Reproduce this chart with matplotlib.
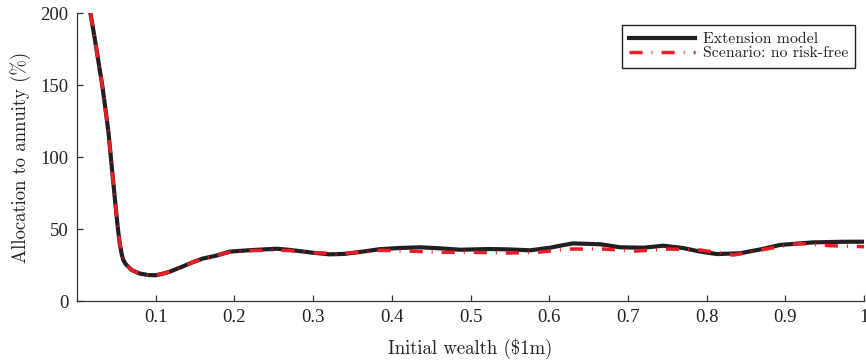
import matplotlib
matplotlib.use("Agg")
import matplotlib.pyplot as plt

# curves
wealth_ext = [0.017, 0.022, 0.027, 0.032, 0.036, 0.040, 0.043, 0.046, 0.049, 0.052,
              0.0546, 0.057, 0.0588, 0.062, 0.0695, 0.08, 0.091, 0.1, 0.108, 0.118,
              0.13, 0.147, 0.16, 0.177, 0.194, 0.22, 0.254, 0.27, 0.3, 0.321,
              0.34, 0.363, 0.385, 0.41, 0.436, 0.46, 0.487, 0.525, 0.55, 0.576,
              0.601, 0.615, 0.63, 0.665, 0.69, 0.72, 0.745, 0.77, 0.79, 0.813,
              0.842, 0.87, 0.893, 0.935, 0.97, 1.0]
alloc_ext = [200, 184, 167, 150, 134, 117, 100, 83, 66, 50,
             39, 32, 28.5, 25.5, 21.5, 19, 18, 17.9, 18.8, 20.4,
             23, 26.9, 29.5, 31.5, 34.3, 35.3, 36.3, 35.5, 33.5, 32.4,
             32.7, 34.3, 36, 36.8, 37.3, 36.6, 35.6, 36.1, 35.8, 35.2,
             37, 38.5, 40, 39.4, 37.3, 37, 38.4, 36.8, 34.5, 32.6,
             33.1, 36, 38.9, 40.7, 41.1, 41.2]

wealth_nrf = [0.017, 0.022, 0.027, 0.032, 0.036, 0.040, 0.043, 0.046, 0.049, 0.052,
              0.0546, 0.057, 0.0588, 0.062, 0.0695, 0.08, 0.091, 0.1, 0.108, 0.118,
              0.13, 0.147, 0.16, 0.177, 0.194, 0.22, 0.254, 0.27, 0.3, 0.33,
              0.363, 0.385, 0.42, 0.461, 0.504, 0.547, 0.585, 0.626, 0.668, 0.711,
              0.751, 0.792, 0.834, 0.876, 0.916, 0.957, 1.0]
alloc_nrf = [200, 184, 167, 150, 134, 117, 100, 83, 66, 50,
             39, 32, 28.5, 25.5, 21.5, 19, 18, 17.9, 18.8, 20.4,
             23, 26.9, 29.5, 31.5, 34, 35, 35.3, 35, 33.5, 32.8,
             34, 35.2, 34.7, 33.8, 33.8, 33.3, 33.8, 36.1, 36.1, 34.7,
             36.1, 35.4, 31.9, 36.1, 40, 38.4, 37.7]

x_ticks = [0.1, 0.2, 0.3, 0.4, 0.5, 0.6, 0.7, 0.8, 0.9, 1.0]
x_tick_labels = ["0.1", "0.2", "0.3", "0.4", "0.5", "0.6", "0.7", "0.8", "0.9", "1"]
y_ticks = [0, 50, 100, 150, 200]

plt.rcParams["lines.scale_dashes"] = False

fig = plt.figure(figsize=(8.66, 3.64), dpi=100)
ax = fig.add_axes([77 / 866, 63 / 364, 787 / 866, 288 / 364])

ax.plot(wealth_ext, alloc_ext, color="#231f20", lw=3.0, label="Extension model",
        solid_joinstyle="round")
ax.plot(wealth_nrf, alloc_nrf, color="#ed1c24", lw=2.5, dashes=(9.4, 6.5, 0.7, 6.5),
        label="Scenario: no risk-free")

ax.set_xlim(0, 1)
ax.set_ylim(0, 200)
ax.set_xticks(x_ticks)
ax.set_xticklabels(x_tick_labels)
ax.set_yticks(y_ticks)

for side in ["top", "right"]:
    ax.spines[side].set_visible(False)
for side in ["left", "bottom"]:
    ax.spines[side].set_color("#333333")
    ax.spines[side].set_linewidth(0.9)
ax.tick_params(direction="in", length=4, width=0.9, color="#333333",
               labelsize=13.5, pad=6)
for lab in ax.get_xticklabels() + ax.get_yticklabels():
    lab.set_family("Liberation Serif")
    lab.set_color("#222222")

ax.set_xlabel("Initial wealth ($1m)", family="cmr10", fontsize=13.5, color="#222222",
              labelpad=9)
ax.set_ylabel("Allocation to annuity (%)", family="cmr10", fontsize=13.5,
              color="#222222", labelpad=7)

leg = ax.legend(loc="upper right", bbox_to_anchor=(0.9886, 0.958), borderaxespad=0,
                prop={"family": "cmr10", "size": 11.4}, fancybox=False,
                handlelength=4.2, handletextpad=0.45, labelspacing=0.0,
                borderpad=0.45, framealpha=1)
leg.get_frame().set_edgecolor("#222222")
leg.get_frame().set_linewidth(1.0)
for t in leg.get_texts():
    t.set_color("#222222")

fig.savefig("out.png", dpi=100)
